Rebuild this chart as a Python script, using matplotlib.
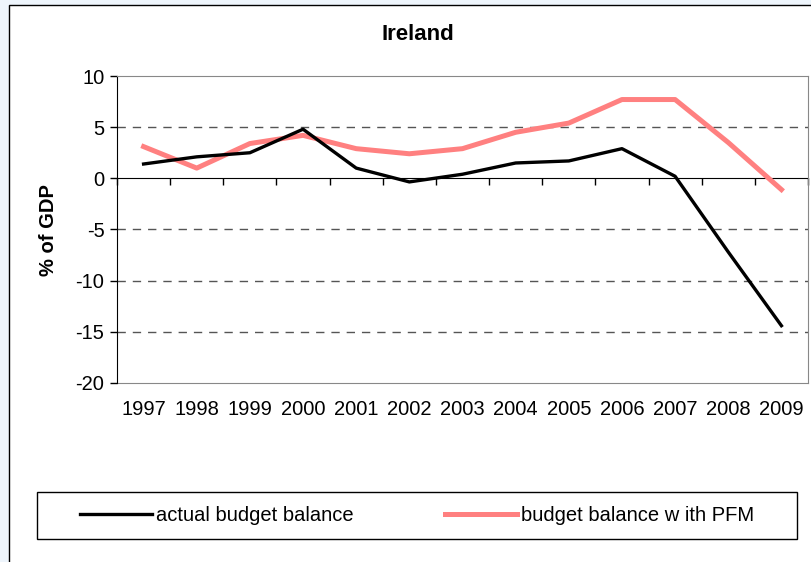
import matplotlib
matplotlib.use("Agg")
import matplotlib.pyplot as plt
from matplotlib.patches import Rectangle
from matplotlib.lines import Line2D

# data
years = ["1997", "1998", "1999", "2000", "2001", "2002", "2003",
         "2004", "2005", "2006", "2007", "2008", "2009"]
actual = [1.4, 2.1, 2.5, 4.8, 1.0, -0.35, 0.4, 1.5, 1.7, 2.9, 0.2, -7.2, -14.4]
with_pfm = [3.1, 1.0, 3.4, 4.2, 2.9, 2.4, 2.9, 4.5, 5.4, 7.7, 7.7, 3.5, -1.1]

plt.rcParams['font.family'] = ['Liberation Sans', 'DejaVu Sans']
plt.rcParams['axes.unicode_minus'] = False
fs = 14.5

fig = plt.figure(figsize=(8.11, 5.62), dpi=100)
fig.patch.set_facecolor('#eef5fc')

# white chart area with black border (runs off right and bottom)
fig.patches.append(Rectangle((9/811, -0.05), 1.1, 1 - 5/562 + 0.05,
                             transform=fig.transFigure, facecolor='white',
                             edgecolor='black', lw=1, zorder=-2))

ax = fig.add_axes([117/811, 1 - 383/562, (808 - 117)/811, (383 - 76)/562])
ax.set_facecolor('white')

x = list(range(len(years)))
ax.plot(x, actual, color='black', lw=2.4, zorder=4)
ax.plot(x, with_pfm, color='#ff8080', lw=3.6, zorder=3)

ax.set_xlim(-0.5, len(years) - 0.5)
ax.set_ylim(-20, 10)
ax.set_yticks([-20, -15, -10, -5, 0, 5, 10])
ax.tick_params(axis='y', direction='out', length=5, width=1, labelsize=fs,
               pad=4, colors='black')

# dashed gridlines
for v in [5, -5, -10, -15]:
    ax.axhline(v, color='#555555', lw=1, ls=(0, (6, 5)), zorder=1)

# spines
ax.spines['left'].set_color('black')
ax.spines['top'].set_color('#888888')
ax.spines['right'].set_color('#888888')
ax.spines['bottom'].set_position(('data', 0))
ax.spines['bottom'].set_color('black')
ax.spines['bottom'].set_zorder(2)

# tick marks between categories on the zero line
ax.set_xticks([i - 0.5 for i in range(len(years) + 1)])
ax.set_xticklabels([])
ax.tick_params(axis='x', direction='out', length=5, width=1, colors='black')

# category labels below the plot frame
sec = ax.secondary_xaxis(0)
sec.set_xticks(x)
sec.set_xticklabels(years)
sec.tick_params(axis='x', length=0, labelsize=fs, pad=12)
sec.spines['bottom'].set_color('#888888')

ax.set_ylabel('% of GDP', fontsize=fs, fontweight='bold', labelpad=12.5)
fig.text(418/811, 1 - 35/562, 'Ireland', ha='center', va='center',
         fontsize=16, fontweight='bold')

# legend box
fig.patches.append(Rectangle((37/811, 1 - 539/562), (797 - 37)/811, 47/562,
                             transform=fig.transFigure, facecolor='white',
                             edgecolor='black', lw=1, zorder=-1))
handles = [Line2D([], [], color='black', lw=2.4),
           Line2D([], [], color='#ff8080', lw=3.6)]
fig.legend(handles, ['actual budget balance', 'budget balance w ith PFM'],
           loc='center', bbox_to_anchor=(417/811, 1 - 515.5/562), ncol=2,
           frameon=False, fontsize=fs, handlelength=3.6, handletextpad=0.2,
           columnspacing=4.5)

fig.savefig('out.png', dpi=100, facecolor=fig.get_facecolor())
